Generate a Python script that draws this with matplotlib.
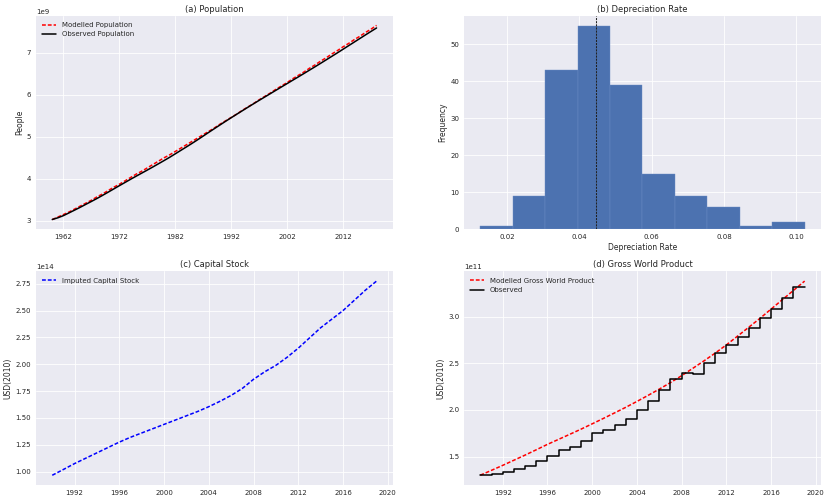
"""Four-panel summary: population, depreciation rate, capital stock, gross world product."""

import matplotlib
matplotlib.use("Agg")
import matplotlib.pyplot as plt

plt.style.use("seaborn-v0_8")
plt.rcParams["font.family"] = ["DejaVu Sans"]
plt.rcParams["lines.linewidth"] = 2.2
plt.rcParams["grid.linewidth"] = 1.2

# (a) population, 1960-2018 (people)
pop_years = list(range(1960, 2019))
pop_observed = [3.032, 3.072, 3.124, 3.189, 3.255, 3.322, 3.392, 3.461, 3.532, 3.606,
                3.682, 3.759, 3.836, 3.912, 3.988, 4.062, 4.135, 4.208, 4.282, 4.358,
                4.434, 4.512, 4.594, 4.677, 4.759, 4.843, 4.929, 5.017, 5.106, 5.194,
                5.281, 5.368, 5.453, 5.537, 5.620, 5.703, 5.785, 5.866, 5.946, 6.026,
                6.106, 6.186, 6.265, 6.345, 6.424, 6.504, 6.585, 6.666, 6.748, 6.831,
                6.914, 6.997, 7.082, 7.167, 7.252, 7.337, 7.422, 7.506, 7.589]
pop_modelled = [3.03, 3.09, 3.15, 3.21, 3.28, 3.35, 3.42, 3.49, 3.57, 3.64,
                3.72, 3.80, 3.87, 3.95, 4.03, 4.11, 4.18, 4.26, 4.34, 4.42,
                4.50, 4.57, 4.65, 4.73, 4.81, 4.89, 4.97, 5.05, 5.13, 5.21,
                5.30, 5.38, 5.46, 5.54, 5.63, 5.71, 5.79, 5.88, 5.96, 6.04,
                6.13, 6.21, 6.29, 6.38, 6.46, 6.54, 6.63, 6.71, 6.80, 6.88,
                6.97, 7.05, 7.14, 7.22, 7.31, 7.39, 7.48, 7.56, 7.65]
pop_ticks = [1962, 1972, 1982, 1992, 2002, 2012]

# (b) depreciation rate histogram
dep_edges = [0.0126, 0.0216, 0.0305, 0.0395, 0.0485, 0.0574,
             0.0664, 0.0754, 0.0843, 0.0933, 0.1023]
dep_counts = [1, 9, 43, 55, 39, 15, 9, 6, 1, 2]
dep_mean = 0.0446

# (c) imputed capital stock, 1990-2019 (USD 2010)
cap_years = list(range(1990, 2020))
cap_stock = [0.966, 1.02, 1.075, 1.125, 1.175, 1.225, 1.275, 1.32, 1.36, 1.40,
             1.44, 1.48, 1.52, 1.56, 1.605, 1.655, 1.71, 1.775, 1.86, 1.93,
             1.99, 2.065, 2.15, 2.245, 2.34, 2.42, 2.50, 2.595, 2.69, 2.775]

# (d) gross world product, 1990-2019 (USD 2010)
gwp_years = list(range(1990, 2020))
gwp_modelled = [1.300, 1.352, 1.405, 1.46, 1.515, 1.572, 1.63, 1.684, 1.738, 1.793,
                1.85, 1.908, 1.967, 2.027, 2.09, 2.155, 2.222, 2.292, 2.366, 2.445,
                2.525, 2.608, 2.696, 2.79, 2.885, 2.98, 3.08, 3.18, 3.28, 3.38]
gwp_observed = [1.299, 1.314, 1.339, 1.367, 1.40, 1.45, 1.507, 1.565, 1.604, 1.661,
                1.747, 1.783, 1.833, 1.905, 2.0, 2.098, 2.209, 2.327, 2.392, 2.385,
                2.507, 2.61, 2.696, 2.785, 2.882, 2.98, 3.08, 3.20, 3.32, 3.32]
recent_ticks = [1992, 1996, 2000, 2004, 2008, 2012, 2016, 2020]

DASH = (0, (2.5, 1.3))

fig, axes = plt.subplots(2, 2, figsize=(16.6, 10.02), dpi=50)
fig.subplots_adjust(left=0.0434, right=0.989, top=0.9687, bottom=0.032,
                    wspace=0.2, hspace=0.197)

# (a)
ax = axes[0, 0]
ax.plot(pop_years, [v * 1e9 for v in pop_modelled], color="r", ls=DASH, label="Modelled Population")
ax.plot(pop_years, [v * 1e9 for v in pop_observed], "k-", label="Observed Population")
ax.set_xticks(pop_ticks)
ax.set_ylabel("People")
ax.set_title("(a) Population")
ax.legend(loc="upper left")

# (b)
ax = axes[0, 1]
centres = [(dep_edges[i] + dep_edges[i + 1]) / 2 for i in range(len(dep_counts))]
ax.hist(centres, bins=dep_edges, weights=dep_counts, color="#4C72B0",
        edgecolor="#6b8cc4", linewidth=0.6)
ax.axvline(dep_mean, color="#222222", ls=(0, (2, 1)), lw=1.5)
ax.set_xlabel("Depreciation Rate")
ax.set_ylabel("Frequency")
ax.set_title("(b) Depreciation Rate")

# (c)
ax = axes[1, 0]
ax.plot(cap_years, [v * 1e14 for v in cap_stock], color="b", ls=DASH, label="Imputed Capital Stock")
ax.set_xticks(recent_ticks)
ax.set_ylabel("USD(2010)")
ax.set_title("(c) Capital Stock")
ax.legend(loc="upper left")

# (d)
ax = axes[1, 1]
ax.plot(gwp_years, [v * 1e11 for v in gwp_modelled], color="r", ls=DASH, label="Modelled Gross World Product")
ax.step(gwp_years, [v * 1e11 for v in gwp_observed], "k-", where="post", label="Observed")
ax.set_xticks(recent_ticks)
ax.set_ylabel("USD(2010)")
ax.set_title("(d) Gross World Product")
ax.legend(loc="upper left")

fig.savefig("out.png", dpi=50)
